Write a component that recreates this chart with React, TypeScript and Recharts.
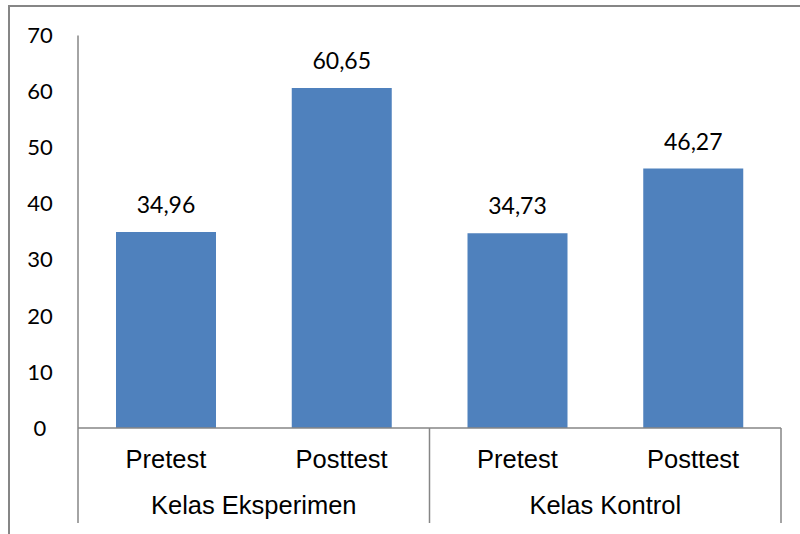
import React from "react";
import { BarChart, Bar, XAxis, YAxis, LabelList } from "recharts";

const tests = ["Pretest", "Posttest", "Pretest", "Posttest"];
const groups = ["Kelas Eksperimen", "Kelas Eksperimen", "Kelas Kontrol", "Kelas Kontrol"];
const scores = [34.96, 60.65, 34.73, 46.27];
const yTicks = [0, 10, 20, 30, 40, 50, 60, 70];

const data = tests.map((t, i) => ({ test: t, group: groups[i], score: scores[i] }));

const AXIS = "#868686";
const BAR = "#4F81BD";

const YTick = ({ y, payload }: any) => (
  <text x={40} y={y} dy="0.35em" textAnchor="middle" fontFamily="Lato" fontSize={22} fill="#000">
    {payload.value}
  </text>
);

const TestTick = ({ x, y, payload }: any) => (
  <text x={x} y={y + 31} dy="0.35em" textAnchor="middle" fontFamily="Liberation Sans" fontSize={25.5} fill="#000">
    {payload.value}
  </text>
);

const GroupTick = ({ x, y, payload, index }: any) => {
  const half = payload?.offset || 87.9;
  const g = groups[index];
  const first = index === 0 || groups[index - 1] !== g;
  const isEnd = index === groups.length - 1;
  const span = groups.filter((v) => v === g).length;
  return (
    <g>
      {first && (
        <line x1={x - half} x2={x - half} y1={y - 53} y2={y + 42} stroke={AXIS} strokeWidth={1.5} />
      )}
      {isEnd && (
        <line x1={x + half} x2={x + half} y1={y - 53} y2={y + 42} stroke={AXIS} strokeWidth={1.5} />
      )}
      {first && (
        <text
          x={x - half + span * half}
          y={y + 24.5}
          dy="0.35em"
          textAnchor="middle"
          fontFamily="Liberation Sans"
          fontSize={25.5}
          fill="#000"
        >
          {g}
        </text>
      )}
    </g>
  );
};

const fmt = (v: any) => Number(v).toFixed(2).replace(".", ",");

export default function App() {
  return (
    <div style={{ position: "fixed", left: 0, top: 0, width: 800, height: 534, background: "#fff", overflow: "hidden" }}>
      <div
        style={{
          position: "absolute",
          left: 8,
          top: 5,
          width: 820,
          height: 560,
          borderTop: `2px solid ${AXIS}`,
          borderLeft: `2px solid ${AXIS}`,
          boxSizing: "border-box",
        }}
      />
      <div style={{ position: "absolute", left: 0, top: 0 }}>
        <BarChart width={800} height={534} data={data} margin={{ top: 35.5, right: 19, left: 0, bottom: 0 }} barSize={100}>
          <YAxis
            width={78}
            domain={[0, 70]}
            ticks={yTicks}
            interval={0}
            tickLine={false}
            tickSize={0}
            axisLine={{ stroke: AXIS, strokeWidth: 1.5 }}
            tick={<YTick />}
          />
          <XAxis
            dataKey="test"
            height={53}
            interval={0}
            tickLine={false}
            tickSize={0}
            tickMargin={0}
            axisLine={{ stroke: AXIS, strokeWidth: 1.5 }}
            tick={<TestTick />}
          />
          <XAxis
            xAxisId="group"
            dataKey="group"
            height={53}
            interval={0}
            tickLine={false}
            tickSize={0}
            tickMargin={0}
            axisLine={false}
            tick={<GroupTick />}
          />
          <Bar dataKey="score" fill={BAR} isAnimationActive={false}>
            <LabelList
              dataKey="score"
              position="top"
              offset={19}
              formatter={fmt}
              fontFamily="Lato"
              fontSize={23}
              fill="#000"
            />
          </Bar>
        </BarChart>
      </div>
    </div>
  );
}
